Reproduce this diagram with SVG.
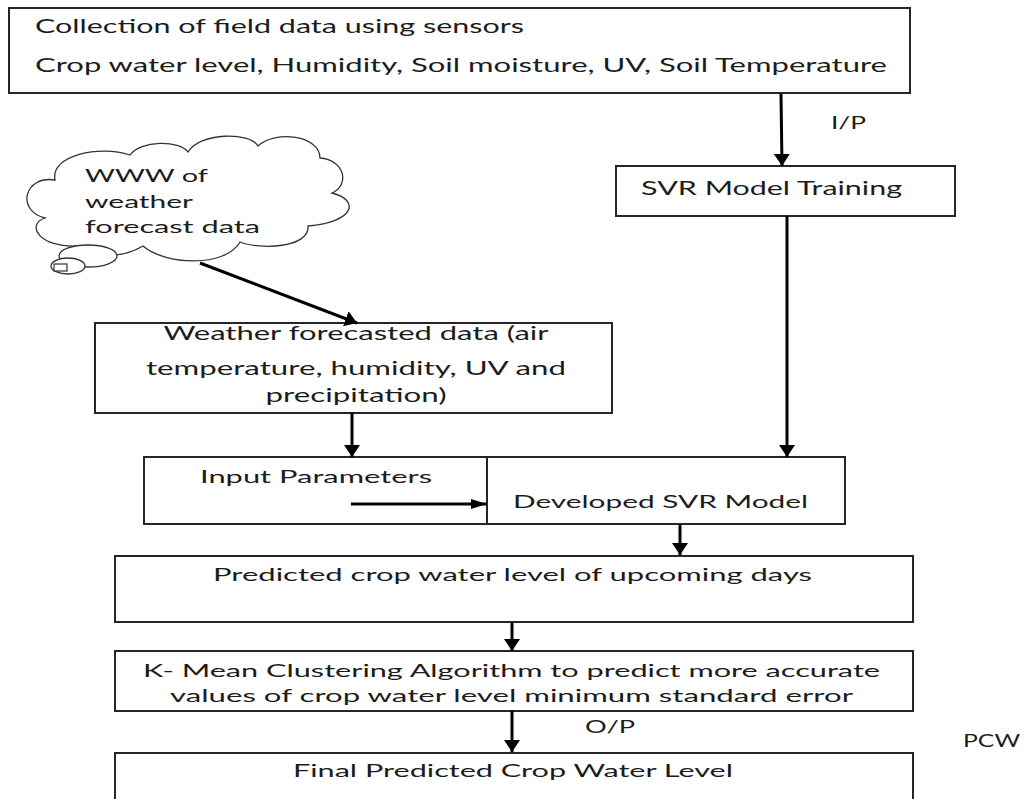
<svg xmlns="http://www.w3.org/2000/svg" width="1032" height="799" viewBox="0 0 1032 799">
<defs>
<style>
.box{fill:#fff;stroke:#262626;stroke-width:2}
.t{font-family:Lato,"Open Sans","Liberation Sans",sans-serif;fill:#1c1c1c}
.conn{stroke:#000;stroke-width:3;fill:none}
</style>
<marker id="ah" viewBox="0 0 12 16" refX="12" refY="8" markerWidth="12" markerHeight="16" markerUnits="userSpaceOnUse" orient="auto">
<path d="M0,0 L12,8 L0,16 Z" fill="#000"/>
</marker>
<marker id="ahs" viewBox="0 0 16 10" refX="16" refY="5" markerWidth="16" markerHeight="10" markerUnits="userSpaceOnUse" orient="auto">
<path d="M0,0 L16,5 L0,10 Z" fill="#000"/>
</marker>
</defs>
<rect width="1032" height="799" fill="#fff"/>

<g id="node-sensors">
<rect class="box" x="9" y="8" width="901" height="85"/>
<text class="t" x="35" y="33" font-size="20" textLength="489" lengthAdjust="spacingAndGlyphs">Collection of field data using sensors</text>
<text class="t" x="35" y="72" font-size="20" textLength="852" lengthAdjust="spacingAndGlyphs">Crop water level, Humidity, Soil moisture, UV, Soil Temperature</text>
</g>

<g id="node-svr-training">
<rect class="box" x="616" y="166" width="339" height="50"/>
<text class="t" x="641" y="195" font-size="19" textLength="261" lengthAdjust="spacingAndGlyphs">SVR Model Training</text>
</g>

<g id="node-cloud">
<path d="M45 218 C15 210,25 175,55 180 C50 155,100 145,130 155 C140 140,180 140,188 152 C200 132,250 132,258 146 C275 130,320 135,320 158 C345 160,350 185,332 193 C360 200,355 222,308 226 C310 248,260 250,240 242 C225 268,165 265,143 246 C120 260,80 258,77 246 C40 248,25 225,45 218 Z" fill="#fff" stroke="#333" stroke-width="1.3"/>
<ellipse cx="88" cy="256" rx="29" ry="11" fill="#fff" stroke="#333" stroke-width="1.3"/>
<ellipse cx="68" cy="266" rx="17" ry="8" fill="#fff" stroke="#333" stroke-width="1.3"/>
<rect x="54" y="264" width="13" height="7" fill="#fff" stroke="#333" stroke-width="1.2"/>
<text class="t" x="85" y="182" font-size="17" textLength="123" lengthAdjust="spacingAndGlyphs">WWW of</text>
<text class="t" x="85" y="208" font-size="17" textLength="108" lengthAdjust="spacingAndGlyphs">weather</text>
<text class="t" x="85" y="233" font-size="17" textLength="175" lengthAdjust="spacingAndGlyphs">forecast data</text>
</g>

<g id="node-weather">
<rect class="box" x="95" y="323" width="517" height="90"/>
<text class="t" x="356" y="340" font-size="19" text-anchor="middle" textLength="385" lengthAdjust="spacingAndGlyphs">Weather forecasted data (air</text>
<text class="t" x="356" y="375" font-size="19" text-anchor="middle" textLength="420" lengthAdjust="spacingAndGlyphs">temperature, humidity, UV and</text>
<text class="t" x="356" y="402" font-size="19" text-anchor="middle" textLength="181" lengthAdjust="spacingAndGlyphs">precipitation)</text>
</g>

<g id="node-input">
<rect class="box" x="144" y="457" width="343" height="67"/>
<text class="t" x="200" y="483" font-size="17" textLength="232" lengthAdjust="spacingAndGlyphs">Input Parameters</text>
</g>

<g id="node-developed">
<rect class="box" x="487" y="457" width="358" height="67"/>
<text class="t" x="513" y="508" font-size="18" textLength="295" lengthAdjust="spacingAndGlyphs">Developed SVR Model</text>
</g>

<g id="node-predicted">
<rect class="box" x="115" y="556" width="798" height="66"/>
<text class="t" x="213" y="581" font-size="17" textLength="599" lengthAdjust="spacingAndGlyphs">Predicted crop water level of upcoming days</text>
</g>

<g id="node-kmean">
<rect class="box" x="115" y="651" width="798" height="60"/>
<text class="t" x="143" y="677" font-size="17" textLength="737" lengthAdjust="spacingAndGlyphs">K- Mean Clustering Algorithm to predict more accurate</text>
<text class="t" x="170" y="702" font-size="17" textLength="683" lengthAdjust="spacingAndGlyphs">values of crop water level minimum standard error</text>
</g>

<g id="node-final">
<rect class="box" x="115" y="753" width="798" height="60"/>
<text class="t" x="293" y="777" font-size="17" textLength="440" lengthAdjust="spacingAndGlyphs">Final Predicted Crop Water Level</text>
</g>

<g id="connectors">
<line class="conn" x1="781" y1="94" x2="782" y2="166" stroke-width="5" marker-end="url(#ah)"/>
<line class="conn" x1="787" y1="216" x2="787" y2="457" marker-end="url(#ah)"/>
<line class="conn" x1="200" y1="263" x2="357" y2="323" stroke-width="2" marker-end="url(#ah)"/>
<line class="conn" x1="352" y1="413" x2="352" y2="457" marker-end="url(#ah)"/>
<line class="conn" x1="351" y1="504" x2="487" y2="504" stroke-width="2" marker-end="url(#ahs)"/>
<line class="conn" x1="680" y1="525" x2="680" y2="555" marker-end="url(#ah)"/>
<line class="conn" x1="512" y1="622" x2="512" y2="651" marker-end="url(#ah)"/>
<line class="conn" x1="512" y1="711" x2="512" y2="752" marker-end="url(#ah)"/>
</g>

<g id="labels">
<text class="t" x="831" y="129" font-size="17" textLength="35" lengthAdjust="spacingAndGlyphs">I/P</text>
<text class="t" x="585" y="733" font-size="17" textLength="50" lengthAdjust="spacingAndGlyphs">O/P</text>
<text class="t" x="963" y="747" font-size="17" textLength="57" lengthAdjust="spacingAndGlyphs">PCW</text>
</g>
</svg>
